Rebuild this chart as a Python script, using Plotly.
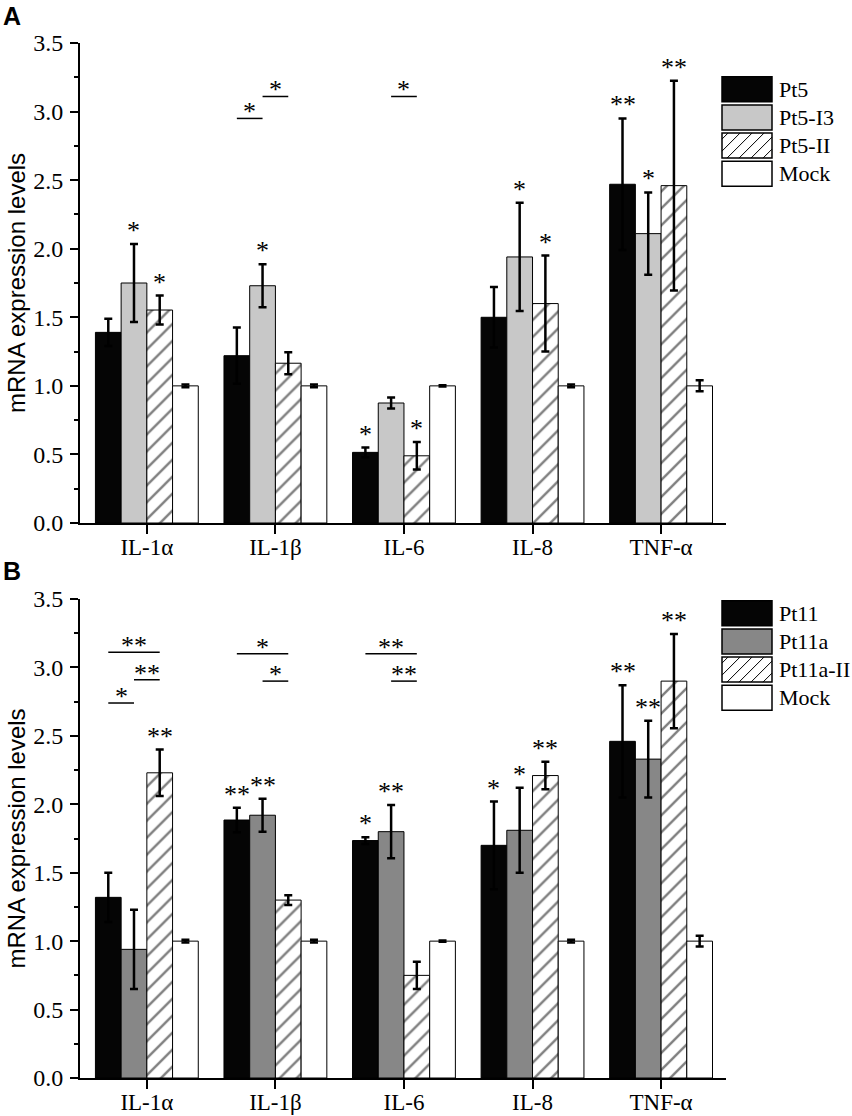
import plotly.graph_objects as go

# ---------------- data ----------------
categories = ["IL-1α", "IL-1β", "IL-6", "IL-8", "TNF-α"]

# Panel A
names_a = ["Pt5", "Pt5-I3", "Pt5-II", "Mock"]
pt5 = [1.39, 1.22, 0.515, 1.50, 2.47]
pt5_err = [0.10, 0.205, 0.035, 0.22, 0.48]
pt5_i3 = [1.75, 1.73, 0.875, 1.94, 2.11]
pt5_i3_err = [0.285, 0.157, 0.04, 0.395, 0.30]
pt5_ii = [1.553, 1.165, 0.49, 1.60, 2.46]
pt5_ii_err = [0.105, 0.08, 0.10, 0.35, 0.765]
mock_a = [1.0, 1.0, 1.0, 1.0, 1.0]
mock_a_err = [0.01, 0.01, 0.005, 0.01, 0.04]
pt5_sig = ["", "", "*", "", "**"]
pt5_i3_sig = ["*", "*", "", "*", "*"]
pt5_ii_sig = ["*", "", "*", "*", "**"]
mock_a_sig = ["", "", "", "", ""]
# (category index, series from, series to, level, label)
comp_a = [(1, 0, 1, 2.95, "*"), (1, 1, 2, 3.11, "*"), (2, 1, 2, 3.11, "*")]

# Panel B
names_b = ["Pt11", "Pt11a", "Pt11a-II", "Mock"]
pt11 = [1.32, 1.885, 1.735, 1.70, 2.46]
pt11_err = [0.18, 0.09, 0.025, 0.32, 0.41]
pt11a = [0.94, 1.92, 1.80, 1.81, 2.33]
pt11a_err = [0.29, 0.12, 0.195, 0.31, 0.28]
pt11a_ii = [2.23, 1.30, 0.75, 2.21, 2.90]
pt11a_ii_err = [0.17, 0.035, 0.10, 0.10, 0.345]
mock_b = [1.0, 1.0, 1.0, 1.0, 1.0]
mock_b_err = [0.01, 0.01, 0.005, 0.01, 0.04]
pt11_sig = ["", "**", "*", "*", "**"]
pt11a_sig = ["", "**", "**", "*", "**"]
pt11a_ii_sig = ["**", "", "", "**", "**"]
mock_b_sig = ["", "", "", "", ""]
comp_b = [(0, 0, 2, 3.11, "**"), (0, 1, 2, 2.91, "**"), (0, 0, 1, 2.74, "*"),
          (1, 0, 2, 3.10, "*"), (1, 1, 2, 2.90, "*"),
          (2, 0, 2, 3.10, "**"), (2, 1, 2, 2.90, "**")]

# ---------------- style ----------------
W, H = 852, 1116
ML, MR, MT, MB = 80, 126, 43, 38
PW, PH = W - ML - MR, H - MT - MB
SERIF = "Liberation Serif"
SANS = "Liberation Sans"
STAR = 26
fills_a = ["#050505", "#c8c8c8", "hatch", "white"]
fills_b = ["#050505", "#878787", "hatch", "white"]
offsets = [-0.3, -0.1, 0.1, 0.3]


def px2x(px):
    return (px - ML) / PW


def px2y(py):
    return (H - MB - py) / PH


fig = go.Figure()
annotations = []
shapes = []


def add_panel(xa, ya, names, vals, errs, sigs, fills, comps):
    for k in range(4):
        f = fills[k]
        if f == "hatch":
            marker = dict(color="white", line=dict(color="black", width=1),
                          pattern=dict(shape="/", fgcolor="black", bgcolor="white",
                                       size=12, solidity=0.2))
        else:
            marker = dict(color=f, line=dict(color="black", width=1))
        fig.add_trace(go.Bar(
            x=list(range(len(categories))), y=vals[k], name=names[k],
            marker=marker, xaxis=xa, yaxis=ya, showlegend=False,
            error_y=dict(type="data", array=errs[k], visible=True,
                         color="black", thickness=2.5, width=4),
        ))
        for i, s in enumerate(sigs[k]):
            if s:
                annotations.append(dict(
                    x=i + offsets[k], y=vals[k][i] + errs[k][i], xref=xa, yref=ya,
                    text=s, showarrow=False, yanchor="bottom", xanchor="center",
                    font=dict(family=SERIF, size=STAR, color="black"), yshift=-3))
    for (ci, a, b, lvl, lab) in comps:
        x0 = ci + offsets[a]
        x1 = ci + offsets[b]
        shapes.append(dict(type="line", xref=xa, yref=ya, x0=x0, x1=x1,
                           y0=lvl, y1=lvl, line=dict(color="black", width=1.5)))
        annotations.append(dict(
            x=(x0 + x1) / 2, y=lvl, xref=xa, yref=ya, text=lab, showarrow=False,
            yanchor="bottom", xanchor="center", yshift=-10,
            font=dict(family=SERIF, size=STAR, color="black")))


add_panel("x", "y", names_a, [pt5, pt5_i3, pt5_ii, mock_a],
          [pt5_err, pt5_i3_err, pt5_ii_err, mock_a_err],
          [pt5_sig, pt5_i3_sig, pt5_ii_sig, mock_a_sig], fills_a, comp_a)
add_panel("x2", "y2", names_b, [pt11, pt11a, pt11a_ii, mock_b],
          [pt11_err, pt11a_err, pt11a_ii_err, mock_b_err],
          [pt11_sig, pt11a_sig, pt11a_ii_sig, mock_b_sig], fills_b, comp_b)


# ---------------- custom legends ----------------
def add_legend(top_px, names, fills):
    bx0, bx1 = 722, 772
    pitch = 28.2
    bh = 25
    for k, nm in enumerate(names):
        yt = top_px + k * pitch
        yb = yt + bh
        f = fills[k]
        shapes.append(dict(type="rect", xref="paper", yref="paper",
                           x0=px2x(bx0), x1=px2x(bx1), y0=px2y(yb), y1=px2y(yt),
                           fillcolor="white" if f == "hatch" else f,
                           line=dict(color="black", width=1.5)))
        if f == "hatch":
            sp = 12
            kk = bx0 + yt + 6
            while kk < bx1 + yb:
                ya_ = max(yt, kk - bx1)
                yb_ = min(yb, kk - bx0)
                if yb_ > ya_:
                    shapes.append(dict(type="line", xref="paper", yref="paper",
                                       x0=px2x(kk - ya_), y0=px2y(ya_),
                                       x1=px2x(kk - yb_), y1=px2y(yb_),
                                       line=dict(color="black", width=1)))
                kk += sp
        annotations.append(dict(
            x=px2x(777), y=px2y((yt + yb) / 2), xref="paper", yref="paper",
            text=nm, showarrow=False, xanchor="left", yanchor="middle",
            font=dict(family=SERIF, size=22, color="black")))


add_legend(76.7, names_a, fills_a)
add_legend(600.7, names_b, fills_b)

# panel letters and y titles
for lab, py in [("A", 15.5), ("B", 570.5)]:
    annotations.append(dict(x=px2x(1), y=px2y(py), xref="paper", yref="paper",
                            text="<b>%s</b>" % lab, showarrow=False,
                            xanchor="left", yanchor="middle",
                            font=dict(family=SANS, size=25, color="black")))
for (t, b) in [(43, 523), (599, 1078)]:
    annotations.append(dict(x=px2x(16), y=px2y((t + b) / 2), xref="paper", yref="paper",
                            text="mRNA expression levels", showarrow=False,
                            textangle=-90, xanchor="center", yanchor="middle",
                            font=dict(family=SANS, size=24, color="black")))

xcommon = dict(range=[-0.52, 4.505], tickmode="array",
               tickvals=list(range(len(categories))), ticktext=categories,
               showline=True, linecolor="black", linewidth=2,
               ticks="outside", ticklen=9, tickwidth=2, tickcolor="black",
               showgrid=False, zeroline=False, ticklabelstandoff=-7,
               tickfont=dict(family=SERIF, size=23, color="black"))
ycommon = dict(range=[0, 3.5], dtick=0.5, tickformat=".1f",
               showline=True, linecolor="black", linewidth=2,
               ticks="outside", ticklen=8, tickwidth=2, tickcolor="black",
               minor=dict(dtick=0.25, ticks="outside", ticklen=4, tickwidth=2,
                          tickcolor="black"),
               showgrid=False, zeroline=False, ticklabelstandoff=2,
               tickfont=dict(family=SERIF, size=24, color="black"))

topA = px2y(43)
botA = px2y(523)
topB = px2y(599)
fig.update_layout(
    width=W, height=H,
    margin=dict(l=ML, r=MR, t=MT, b=MB, autoexpand=False),
    paper_bgcolor="white", plot_bgcolor="white",
    barmode="group", bargap=0.2, bargroupgap=0,
    xaxis=dict(anchor="y", domain=[0, 1], **xcommon),
    yaxis=dict(anchor="x", domain=[botA, min(1, topA)], **ycommon),
    xaxis2=dict(anchor="y2", domain=[0, 1], **xcommon),
    yaxis2=dict(anchor="x2", domain=[0, topB], **ycommon),
    shapes=shapes, annotations=annotations, showlegend=False,
)

fig.write_html("out.html", config={"displayModeBar": False},
               post_script="document.body.style.margin='0px';document.body.style.overflow='hidden';")
